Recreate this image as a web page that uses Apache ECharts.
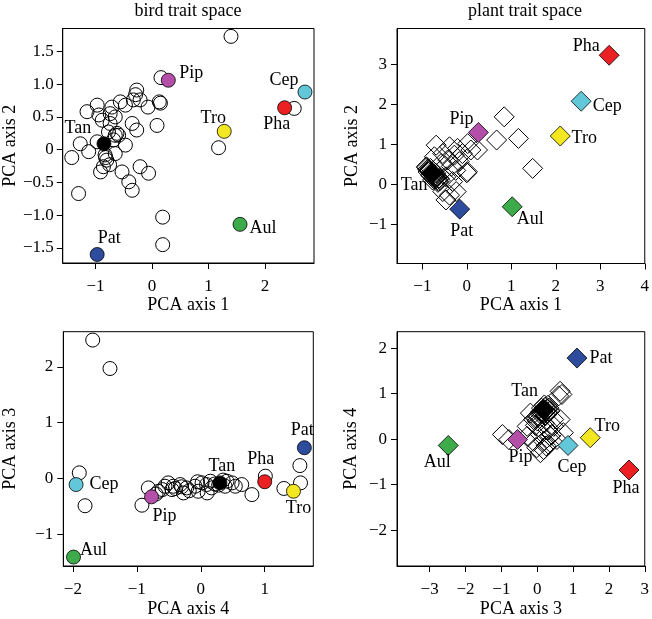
<!DOCTYPE html>
<html>
<head>
<meta charset="utf-8">
<script src="https://cdn.jsdelivr.net/npm/echarts@6/dist/echarts.min.js"></script>
<style>
html,body{margin:0;padding:0;background:#fff;}
#chart{width:652px;height:619px;}
</style>
</head>
<body>
<div id="chart"></div>
<script>
// ---------------- DATA ----------------
const speciesNames = ["Pip", "Cep", "Pha", "Tro", "Aul", "Pat", "Tan"];

// bird trait space: highlighted species scores
const birdSpPC1 = [0.29, 2.71, 2.35, 1.28, 1.56, -0.97, -0.85];
const birdSpPC2 = [1.06, 0.88, 0.64, 0.28, -1.14, -1.60, 0.09];
const birdSpPC3 = [-0.33, -0.11, -0.06, -0.23, -1.41, 0.55, -0.08];
const birdSpPC4 = [-0.77, -1.95, 1.00, 1.45, -1.99, 1.62, 0.30];

// plant trait space: highlighted species scores
const plantSpPC1 = [0.26, 2.57, 3.20, 2.10, 1.02, -0.16, -0.78];
const plantSpPC2 = [1.30, 2.08, 3.23, 1.21, -0.56, -0.62, 0.28];
const plantSpPC3 = [-0.55, 0.86, 2.56, 1.48, -2.48, 1.11, 0.18];
const plantSpPC4 = [-0.01, -0.14, -0.68, 0.03, -0.14, 1.78, 0.65];

// other species, bird space: [PC1, PC2]
const birdOther12 = [
  [1.40,1.73],[0.16,1.10],[2.52,0.63],[1.18,0.03],[0.19,-1.03],[0.19,-1.45],
  [-0.27,0.91],[-0.29,0.84],[-0.21,0.76],[-0.07,0.65],[0.13,0.73],[0.15,0.71],
  [0.09,0.37],[-0.33,0.76],[-0.47,0.68],[-0.56,0.73],[-0.71,0.65],[-0.74,0.55],
  [-0.97,0.68],[-1.15,0.58],[-0.94,0.53],[-0.88,0.45],[-0.65,0.50],[-0.74,0.40],
  [-0.35,0.40],[-0.27,0.30],[-0.77,0.27],[-0.65,0.22],[-0.59,0.22],[-0.97,0.12],
  [-0.68,0.15],[-0.47,0.07],[-1.27,0.09],[-1.12,-0.03],[-1.42,-0.12],[-0.83,-0.08],
  [-0.80,-0.16],[-0.65,-0.06],[-0.86,-0.26],[-0.91,-0.34],[-0.75,-0.23],[-0.53,-0.34],
  [-0.21,-0.26],[-0.06,-0.36],[-0.41,-0.49],[-0.35,-0.62],[-1.30,-0.67],[-0.62,0.25],
  [-0.82,-0.12]
];
// other species, bird space: [PC4, PC3]
const birdOther43 = [
  [-1.90,0.10],[-1.81,-0.49],[-1.69,2.48],[-1.42,1.97],[-0.92,-0.48],[-0.82,-0.17],
  [-0.66,-0.23],[-0.56,-0.14],[-0.51,-0.08],[-0.43,-0.14],[-0.40,-0.18],[-0.32,-0.11],
  [-0.27,-0.26],[-0.22,-0.17],[-0.18,-0.22],[-0.09,-0.14],[-0.04,-0.23],[0.02,-0.08],
  [0.09,-0.11],[0.15,-0.05],[0.17,-0.17],[0.22,-0.10],[0.38,-0.14],[0.41,-0.05],
  [0.49,-0.08],[0.54,-0.14],[0.64,-0.11],[0.80,-0.29],[1.01,0.04],[1.55,0.23],
  [1.56,-0.08],[1.30,-0.18],[-0.70,-0.28],[-0.60,-0.20],[0.28,-0.12],[0.35,-0.03],
  [-0.05,-0.06],[0.10,-0.26],[-0.45,-0.20],[-0.30,-0.15]
];
// other species, plant space: [PC1, PC2]
const plantOther12 = [
  [0.84,1.69],[0.67,1.11],[1.16,1.15],[1.48,0.40],[0.24,0.86],[0.00,0.29],
  [0.02,1.02],[-0.69,0.98],[-0.39,0.94],[-0.21,0.90],[0.09,0.86],[-0.54,0.77],
  [-0.28,0.73],[-0.10,0.77],[-0.73,0.69],[-0.43,0.61],[-0.17,0.57],[-0.58,0.52],
  [0.01,0.32],[-0.91,0.44],[-0.47,0.19],[-0.32,0.07],[-0.54,-0.18],[-0.39,-0.27],
  [-0.24,-0.18],[-0.47,-0.39],[-0.77,0.11],[-0.65,0.05],[-0.85,0.35],[-0.80,0.30],
  [-0.72,0.22],[-0.68,0.18],[-0.82,0.40],[-0.75,0.32],[-0.70,0.28],[-0.62,0.15],
  [-0.88,0.38],[-0.60,0.10],[-0.35,0.45],[-0.25,0.35],[-0.90,0.42],[-0.86,0.36],
  [-0.83,0.33],[-0.79,0.27],[-0.76,0.24],[-0.73,0.20],[-0.71,0.16],[-0.66,0.12],
  [-0.64,0.08],[-0.87,0.31],[-0.81,0.22],[-0.74,0.14]
];
// other species, plant space: [PC3, PC4]
const plantOther34 = [
  [0.64,1.05],[0.69,0.98],[0.60,0.95],[-0.19,0.57],[-0.10,0.43],[-0.28,0.28],
  [0.46,0.43],[0.64,0.43],[-0.97,0.10],[-0.79,-0.01],[-0.28,0.06],[-0.10,-0.05],
  [0.09,0.10],[0.18,-0.05],[0.36,0.06],[0.55,-0.01],[0.73,0.14],[-0.01,-0.19],
  [0.18,-0.23],[0.09,-0.30],[0.32,-0.12],[0.46,0.28],[0.10,0.60],[0.22,0.70],
  [0.15,0.55],[0.25,0.62],[0.05,0.50],[0.20,0.75],[0.12,0.68],[0.28,0.58],
  [0.00,0.40],[-0.05,0.30],[0.30,0.20],[0.20,0.35],[0.40,0.10],[0.25,-0.15],
  [0.30,0.74],[0.33,0.68],[0.27,0.66],[0.14,0.62],[0.08,0.56],[0.02,0.52],
  [0.18,0.58],[0.24,0.52],[-0.02,0.46],[0.36,0.62]
];

// tick values and labels
const p1XTicks = [-1, 0, 1, 2];
const p1XLabels = ["\u22121", "0", "1", "2"];
const p1YTicks = [-1.5, -1, -0.5, 0, 0.5, 1, 1.5];
const p1YLabels = ["\u22121.5", "\u22121.0", "\u22120.5", "0", "0.5", "1.0", "1.5"];
const p2XTicks = [-1, 0, 1, 2, 3, 4];
const p2XLabels = ["\u22121", "0", "1", "2", "3", "4"];
const p2YTicks = [-1, 0, 1, 2, 3];
const p2YLabels = ["\u22121", "0", "1", "2", "3"];
const p3XTicks = [-2, -1, 0, 1];
const p3XLabels = ["\u22122", "\u22121", "0", "1"];
const p3YTicks = [-1, 0, 1, 2];
const p3YLabels = ["\u22121", "0", "1", "2"];
const p4XTicks = [-3, -2, -1, 0, 1, 2, 3];
const p4XLabels = ["\u22123", "\u22122", "\u22121", "0", "1", "2", "3"];
const p4YTicks = [-2, -1, 0, 1, 2];
const p4YLabels = ["\u22122", "\u22121", "0", "1", "2"];

const titles = ["bird trait space", "plant trait space"];

// ---------------- STYLE ----------------
const FONT = '"Liberation Serif", "Times New Roman", serif';
const speciesColors = {
  Pip: "#B34FA9", Cep: "#62C7D8", Pha: "#EA2023", Tro: "#F3E722",
  Aul: "#3DAB49", Pat: "#2E4C9E", Tan: "#000000"
};
// label offsets (px) relative to each highlighted point
const labelOffsets = [
  {Pip:[23,-7], Cep:[-21,-12], Pha:[-8,17], Tro:[-11,-13], Aul:[23,4], Pat:[12,-16], Tan:[-26,-16]},
  {Pip:[-17,-13], Cep:[26,5], Pha:[-23,-9], Tro:[24,2], Aul:[18,13], Pat:[2,22], Tan:[-18,12]},
  {Pip:[13,19], Cep:[28,0], Pha:[-4,-22], Tro:[5,17], Aul:[20,-7], Pat:[-2,-17], Tan:[2,-17]},
  {Pip:[3,18], Cep:[4,22], Pha:[-3,18], Tro:[17,-11], Aul:[-11,17], Pat:[24,0], Tan:[-19,-18]}
];

const grids = [
  {left: 62.5, top: 28.5, width: 251.5, height: 234.5},
  {left: 397, top: 28.5, width: 249.3, height: 235},
  {left: 63.3, top: 331.7, width: 250, height: 235.6},
  {left: 397, top: 331.7, width: 249.3, height: 235}
];

function fmt(ticks, labels) {
  return function (v) {
    for (let i = 0; i < ticks.length; i++) if (Math.abs(ticks[i] - v) < 1e-6) return labels[i];
    return "";
  };
}

function xAxis(gi, min, max, ticks, labels, name, margin, nameGap) {
  return {
    gridIndex: gi, type: "value", min: min, max: max,
    name: name, nameLocation: "middle", nameGap: nameGap,
    nameTextStyle: {fontFamily: FONT, fontSize: 18, color: "#000"},
    axisLine: {show: true, onZero: false, lineStyle: {color: "#000", width: 1}},
    axisTick: {show: true, inside: false, length: 6, customValues: ticks, lineStyle: {color: "#000", width: 1}},
    axisLabel: {show: true, customValues: ticks, formatter: fmt(ticks, labels), margin: margin,
      fontFamily: FONT, fontSize: 17, color: "#000"},
    splitLine: {show: false}
  };
}
function yAxis(gi, min, max, ticks, labels, name, margin, nameGap) {
  return {
    gridIndex: gi, type: "value", min: min, max: max,
    name: name, nameLocation: "middle", nameGap: nameGap, nameRotate: 90,
    nameTextStyle: {fontFamily: FONT, fontSize: 18, color: "#000"},
    axisLine: {show: true, onZero: false, lineStyle: {color: "#000", width: 1}},
    axisTick: {show: true, inside: false, length: 6, customValues: ticks, lineStyle: {color: "#000", width: 1}},
    axisLabel: {show: true, customValues: ticks, formatter: fmt(ticks, labels), margin: margin,
      fontFamily: FONT, fontSize: 17, color: "#000"},
    splitLine: {show: false}
  };
}

function otherSeries(gi, pts, symbol, size) {
  return {
    type: "scatter", xAxisIndex: gi, yAxisIndex: gi,
    symbol: symbol, symbolSize: size, data: pts,
    itemStyle: {color: "rgba(0,0,0,0)", borderColor: "#000", borderWidth: 1, opacity: 1},
    emphasis: {disabled: true}, silent: true, z: 2
  };
}
function speciesSeries(gi, xs, ys, symbol, size) {
  const data = speciesNames.map(function (n, i) {
    const off = labelOffsets[gi][n];
    return {
      name: n, value: [xs[i], ys[i]],
      itemStyle: {color: speciesColors[n], borderColor: "#000", borderWidth: 0.8, opacity: 1},
      label: {show: true, formatter: n, position: "inside", offset: off,
        color: "#000", fontFamily: FONT, fontSize: 18}
    };
  });
  return {
    type: "scatter", xAxisIndex: gi, yAxisIndex: gi,
    symbol: symbol, symbolSize: size, data: data,
    itemStyle: {opacity: 1},
    emphasis: {disabled: true}, silent: true, z: 3
  };
}

const chart = echarts.init(document.getElementById("chart"), null, {renderer: "canvas"});
const option = {
  backgroundColor: "#fff",
  animation: false,
  grid: grids.map(function (g) {
    return Object.assign({show: true, borderColor: "#000", borderWidth: 1, backgroundColor: "transparent"}, g);
  }),
  xAxis: [
    xAxis(0, -1.58, 2.87, p1XTicks, p1XLabels, "PCA axis 1", 15, 27),
    xAxis(1, -1.57, 4.0, p2XTicks, p2XLabels, "PCA axis 1", 15, 27),
    xAxis(2, -2.15, 1.76, p3XTicks, p3XLabels, "PCA axis 4", 15, 34),
    xAxis(3, -3.91, 3.0, p4XTicks, p4XLabels, "PCA axis 3", 15, 34)
  ],
  yAxis: [
    yAxis(0, -1.73, 1.85, p1YTicks, p1YLabels, "PCA axis 2", 9, 43),
    yAxis(1, -1.98, 3.9, p2YTicks, p2YLabels, "PCA axis 2", 10, 36),
    yAxis(2, -1.57, 2.63, p3YTicks, p3YLabels, "PCA axis 3", 10, 44),
    yAxis(3, -2.79, 2.36, p4YTicks, p4YLabels, "PCA axis 4", 10, 37)
  ],
  graphic: [
    {type: "text", x: 188, y: 11, style: {text: titles[0], font: "18px " + FONT, fill: "#000", textAlign: "center", textVerticalAlign: "middle"}},
    {type: "text", x: 525, y: 11, style: {text: titles[1], font: "18px " + FONT, fill: "#000", textAlign: "center", textVerticalAlign: "middle"}}
  ],
  series: [
    otherSeries(0, birdOther12, "circle", 14),
    speciesSeries(0, birdSpPC1, birdSpPC2, "circle", 14),
    otherSeries(1, plantOther12, "diamond", 20),
    speciesSeries(1, plantSpPC1, plantSpPC2, "diamond", 20),
    otherSeries(2, birdOther43, "circle", 14),
    speciesSeries(2, birdSpPC4, birdSpPC3, "circle", 14),
    otherSeries(3, plantOther34, "diamond", 20),
    speciesSeries(3, plantSpPC3, plantSpPC4, "diamond", 20)
  ]
};
chart.setOption(option);
</script>
</body>
</html>
